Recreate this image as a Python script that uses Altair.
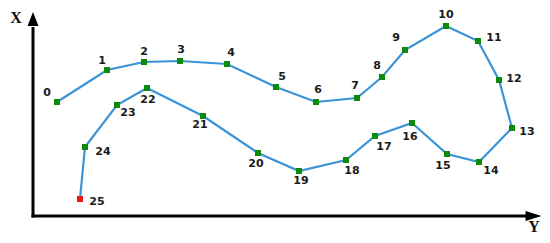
import altair as alt
import pandas as pd

# point order and coordinates (horizontal "Y" axis, vertical "X" axis)
point_id = list(range(26))
horiz = [24, 74, 111, 147, 194, 243, 283, 324, 349, 372, 413, 445, 466, 479,
         446, 414, 379, 342, 313, 266, 225, 170, 114, 84, 52, 47]
vert = [114, 146, 154, 155, 152, 129, 114, 118, 139, 166, 190, 175, 136, 88,
        54, 62, 93, 80, 56, 45, 63, 100, 128, 111, 69, 17]

# label offsets (pixels) relative to each point
label_dx = [-10, -5, 0, 1, 4, 6, 2, -2, -5, -9, 0, 16, 15, 15,
            12, -4, -2, 9, 6, 2, -2, -3, 1, 11, 18, 17]
label_dy = [-9, -9, -10, -11, -11, -10, -12, -12, -11, -12, -11, -3, -1, 4,
            9, 12, 14, 11, 11, 10, 11, 9, 12, 8, 5, 3]

df = pd.DataFrame({"id": point_id, "h": horiz, "v": vert})
df["kind"] = ["end" if i == point_id[-1] else "mid" for i in point_id]
df["lh"] = df["h"] + pd.Series(label_dx)
df["lv"] = df["v"] - pd.Series(label_dy)

W, H = 534, 227
xs = alt.Scale(domain=[-25, 509], nice=False, zero=False)
ys = alt.Scale(domain=[-19, 208], nice=False, zero=False)
X = lambda f: alt.X(f, type="quantitative", scale=xs, axis=None)
Y = lambda f: alt.Y(f, type="quantitative", scale=ys, axis=None)

# axes drawn as rules with arrowheads
axes_df = pd.DataFrame({"h": [0, -1.5], "h2": [0, 494], "v": [-1.5, 0], "v2": [189, 0]})
axes = alt.Chart(axes_df).mark_rule(color="black", strokeWidth=3).encode(
    x=X("h"), x2="h2", y=Y("v"), y2="v2")

up_df = pd.DataFrame({"h": [0], "v": [204]})
up = alt.Chart(up_df).mark_point(
    shape="M0,0 L-0.39,1 L0.39,1 Z", size=784, filled=True, color="black", opacity=1
).encode(x=X("h"), y=Y("v"))

right_df = pd.DataFrame({"h": [508.5], "v": [0]})
right = alt.Chart(right_df).mark_point(
    shape="M0,0 L-1,-0.31 L-1,0.31 Z", size=1024, filled=True, color="black", opacity=1
).encode(x=X("h"), y=Y("v"))

axis_labels = pd.DataFrame({"t": ["X", "Y"], "h": [-17, 501], "v": [198, -10.5]})
axlab = alt.Chart(axis_labels).mark_text(
    font="Liberation Serif", fontWeight="bold", fontSize=16, color="#111",
    baseline="middle", align="center"
).encode(x=X("h"), y=Y("v"), text="t")

line = alt.Chart(df).mark_line(color="#3a93d6", strokeWidth=2.2).encode(
    x=X("h"), y=Y("v"), order="id")

pts = alt.Chart(df).mark_square(size=36, opacity=1).encode(
    x=X("h"), y=Y("v"),
    color=alt.Color("kind", scale=alt.Scale(domain=["mid", "end"], range=["#0b8a0b", "#ee1515"]),
                    legend=None))

labels = alt.Chart(df).mark_text(
    font="DejaVu Sans", fontWeight="bold", fontSize=11, color="#1a1a1a",
    baseline="middle", align="center"
).encode(x=X("lh"), y=Y("lv"), text="id:N")

chart = alt.layer(axes, up, right, line, pts, labels, axlab).properties(
    width=W, height=H,
    padding=0,
    autosize=alt.AutoSizeParams(type="none"),
).configure_view(stroke=None)

chart.save("out.html", embed_options={"renderer": "svg", "actions": False})
